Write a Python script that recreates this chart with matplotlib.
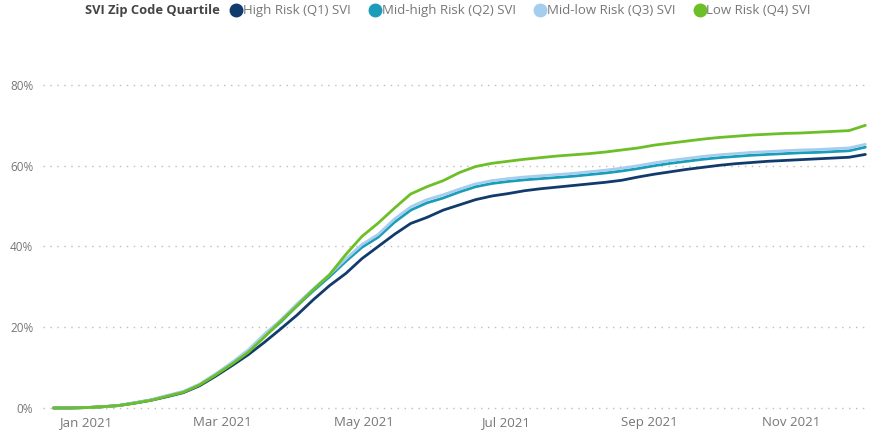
import numpy as np
import pandas as pd
import matplotlib
matplotlib.use("Agg")
import matplotlib.pyplot as plt
import matplotlib.dates as mdates
from matplotlib.lines import Line2D
from matplotlib.ticker import PercentFormatter

# weekly points, Dec 18 2020 -> Dec 3 2021
dates = pd.date_range("2020-12-18", "2021-12-03", freq="7D")

q1_high = [0, 0, 0.1, 0.3, 0.6, 1.2, 1.9, 2.8, 3.8, 5.5, 7.9, 10.5, 13.2, 16.3, 19.6,
           23.0, 26.8, 30.3, 33.3, 37.0, 40.0, 43.0, 45.7, 47.2, 49.0, 50.3, 51.6, 52.5,
           53.1, 53.8, 54.3, 54.7, 55.1, 55.5, 55.9, 56.4, 57.2, 57.9, 58.5, 59.1, 59.6,
           60.1, 60.5, 60.8, 61.1, 61.3, 61.5, 61.7, 61.9, 62.1, 62.8]
q2_midhigh = [0, 0, 0.1, 0.3, 0.6, 1.3, 2.0, 3.0, 4.0, 5.8, 8.3, 11.0, 14.0, 17.8, 21.3,
              25.3, 29.0, 32.5, 36.3, 39.8, 42.3, 46.0, 49.0, 50.8, 52.0, 53.5, 54.8, 55.6,
              56.1, 56.5, 56.8, 57.1, 57.4, 57.8, 58.2, 58.7, 59.3, 60.0, 60.6, 61.1, 61.6,
              62.0, 62.3, 62.6, 62.8, 63.0, 63.2, 63.3, 63.5, 63.7, 64.6]
q3_midlow = [0, 0, 0.1, 0.3, 0.6, 1.3, 2.0, 3.1, 4.1, 5.9, 8.5, 11.3, 14.4, 18.3, 21.8,
             25.8, 29.5, 33.0, 36.9, 40.5, 43.0, 46.8, 49.8, 51.6, 52.8, 54.2, 55.5, 56.3,
             56.8, 57.2, 57.5, 57.8, 58.1, 58.5, 58.9, 59.4, 60.0, 60.7, 61.3, 61.8, 62.3,
             62.7, 63.0, 63.3, 63.5, 63.7, 63.9, 64.0, 64.2, 64.4, 65.3]
q4_low = [0, 0, 0.1, 0.3, 0.6, 1.2, 1.9, 2.9, 3.9, 5.7, 8.2, 10.9, 13.8, 17.6, 21.5,
          25.3, 29.3, 33.0, 38.0, 42.5, 45.8, 49.5, 53.0, 54.8, 56.3, 58.3, 59.8, 60.6,
          61.1, 61.6, 62.0, 62.4, 62.7, 63.0, 63.4, 63.9, 64.4, 65.1, 65.6, 66.1, 66.6,
          67.0, 67.3, 67.6, 67.8, 68.0, 68.1, 68.3, 68.5, 68.7, 70.0]

labels = ["High Risk (Q1) SVI", "Mid-high Risk (Q2) SVI", "Mid-low Risk (Q3) SVI", "Low Risk (Q4) SVI"]
colors = ["#123B6D", "#1A9DB8", "#A5CDEE", "#6CBF26"]

plt.rcParams["font.family"] = ["Open Sans", "DejaVu Sans"]

fig = plt.figure(figsize=(8.72, 4.32), dpi=100)
ax = fig.add_axes([0.0493, 0.0509, 0.9484, 0.8225])

series = [q1_high, q2_midhigh, q3_midlow, q4_low]
for i in [2, 1, 0, 3]:
    vals = np.array(series[i]) / 100.0
    ax.plot(dates, vals, color=colors[i], lw=2.0, solid_capstyle="round", zorder=3 + i)

ax.set_ylim(-0.005, 0.875)
ax.set_xlim(pd.Timestamp("2020-12-13 12:00"), pd.Timestamp("2021-12-05"))
ax.set_yticks([0, 0.2, 0.4, 0.6, 0.8])
ax.yaxis.set_major_formatter(PercentFormatter(1.0, decimals=0))
ax.xaxis.set_major_locator(mdates.MonthLocator(bymonth=[1, 3, 5, 7, 9, 11]))
ax.xaxis.set_major_formatter(mdates.DateFormatter("%b %Y"))
ax.grid(axis="y", color="#BDBDBD", linestyle=(0, (1, 4)), lw=1.0)
ax.grid(axis="x", visible=False)
for s in ax.spines.values():
    s.set_visible(False)
ax.tick_params(length=0, colors="#777777", labelsize=9.5)
ax.tick_params(axis="y", labelsize=8.5, pad=7)
ax.tick_params(axis="x", pad=4)

# legend
fig.text(0.0975, 0.975, "SVI Zip Code Quartile", fontsize=9.3, fontweight="bold",
         color="#444444", va="center", ha="left")
handles = [Line2D([], [], marker="o", linestyle="none", markersize=9,
                  markerfacecolor=c, markeredgecolor=c) for c in colors]
fig.legend(handles, labels, loc="center left", bbox_to_anchor=(0.262, 0.975), ncol=4,
           frameon=False, fontsize=9.5, handletextpad=-0.1, columnspacing=1.25,
           handlelength=1.2, labelcolor="#777777", borderaxespad=0, borderpad=0)

fig.savefig("out.png", dpi=100, facecolor="white")
